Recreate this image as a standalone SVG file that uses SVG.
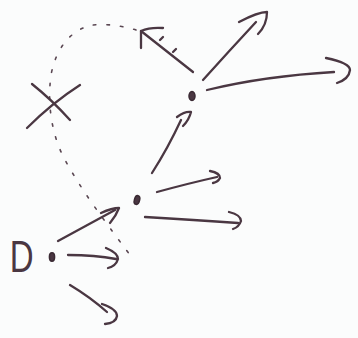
<svg xmlns="http://www.w3.org/2000/svg" width="358" height="338" viewBox="0 0 358 338">
<style>
.s{fill:none;stroke:#4a3742;stroke-width:2.3;stroke-linecap:round;stroke-linejoin:round}
.dot{fill:none;stroke:#5a4752;stroke-width:1.6;stroke-linecap:round;stroke-dasharray:2.5 11}
.n{fill:#4a3742;stroke:#3a2a33;stroke-width:1.5}
.t{font-family:"Liberation Sans",Arial,sans-serif;font-size:44px;fill:#4a3742}
</style>
<rect width="358" height="338" fill="#fbfcfc"/>
<g id="connectors">
<path class="dot" d="M136 30 C120 25 100 23 88 26 C70 32 56 48 51 75 C47 105 52 135 64 158 C80 188 100 215 133 259"/>
<path class="s" d="M58 241 L115 210"/>
<path class="s" d="M101 213 Q112 208 119 208 Q116 216 110 223"/>
<path class="s" d="M68 255 Q95 255 116 259"/>
<path class="s" d="M106 248 Q118 253 118 259 Q116 266 108 268"/>
<path class="s" d="M70 285 Q90 297 107 312"/>
<path class="s" d="M102 304 Q117 309 117 316 Q116 323 105 324"/>
<path class="s" d="M152 173 Q168 148 181 120"/>
<path class="s" d="M177 117 Q185 111 191 112 Q189 120 183 126"/>
<path class="s" d="M157 192 Q190 183 217 177"/>
<path class="s" d="M210 171 Q220 173 220 178 Q218 182 213 183"/>
<path class="s" d="M145 217 Q195 220 238 223"/>
<path class="s" d="M229 212 Q241 215 241 221 Q239 227 233 229"/>
<path class="s" d="M193 72 Q165 50 141 31"/>
<path class="s" d="M141 48 L141 31 Q150 27 163 28"/>
<path class="s" d="M160 40 l3 -3 M173 52 l3 -3"/>
<path class="s" d="M203 80 Q230 50 256 22"/>
<path class="s" d="M239 22 Q258 12 267 12 Q267 25 258 34"/>
<path class="s" d="M207 90 Q265 76 334 72"/>
<path class="s" d="M326 58 Q350 63 350 70 Q349 79 337 83"/>
</g>
<g id="node-D">
<text class="t" x="13" y="272" transform="scale(0.75 1)">D</text>
<ellipse class="n" cx="52" cy="257" rx="2.6" ry="4.2" fill="#7a6570"/>
</g>
<g id="node-mid">
<ellipse class="n" cx="137" cy="200" rx="2.6" ry="4.5" transform="rotate(15 137 200)"/>
</g>
<g id="node-top">
<ellipse class="n" cx="192" cy="96" rx="3" ry="4.5"/>
</g>
<g id="node-X">
<path class="s" d="M27 128 Q52 103 80 85"/>
<path class="s" d="M32 84 Q52 100 70 120"/>
</g>
</svg>
